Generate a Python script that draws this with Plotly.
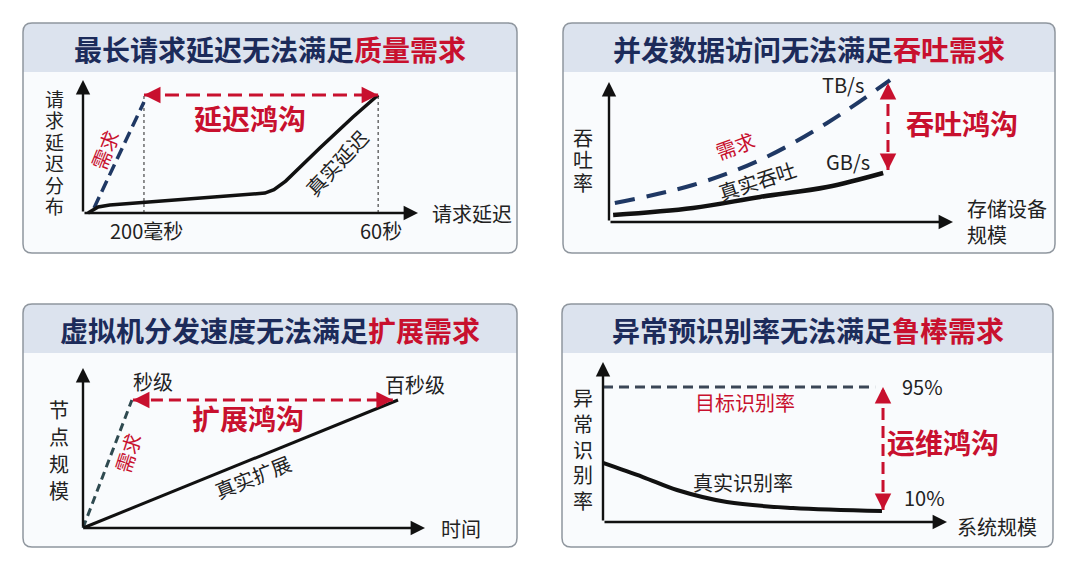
import plotly.graph_objects as go

# page body has an 8px margin, so the figure is drawn shifted by OFF
OFF = 8
W, H = 1064, 554
RED = "#c8102e"
NAVY = "#1c2b5a"
FONT = "Noto Sans CJK SC"

# ---- panel 1: 请求延迟 ----
p1_title = ("最长请求延迟无法满足", "质量需求")
p1_real_x = [1.5, 4.5, 8.0, 54.3, 57.0, 60.5, 70.7, 80.6, 88.1]
p1_real_y = [0.0, 4.5, 6.0, 15.0, 17.5, 24.0, 48.9, 72.2, 88.7]
p1_demand_x = [3.3, 18.2]
p1_demand_y = [3.8, 83.5]
p1_ticks = [18.2, 88.1]
p1_ticktext = ["200毫秒", "60秒"]
p1_gap_y = 88.7

# ---- panel 2: 吞吐 ----
p2_title = ("并发数据访问无法满足", "吞吐需求")
p2_demand_x = [1.7, 24.4, 43.9, 63.4, 81.7]
p2_demand_y = [13.6, 26.4, 44.3, 70.7, 101.4]
p2_real_x = [1.2, 24.4, 43.9, 63.4, 79.7]
p2_real_y = [5.0, 10.0, 17.9, 25.0, 35.0]
p2_gap_x = 81.1
p2_gap_y = [37.1, 99.3]

# ---- panel 3: 扩展 ----
p3_title = ("虚拟机分发速度无法满足", "扩展需求")
p3_demand_x = [0.0, 14.3]
p3_demand_y = [0.0, 80.0]
p3_real_x = [0.0, 92.1]
p3_real_y = [0.0, 80.0]
p3_gap_x = [14.6, 90.6]
p3_gap_y = 80.0

# ---- panel 4: 识别率 ----
p4_title = ("异常预识别率无法满足", "鲁棒需求")
p4_target_x = [0.0, 79.1]
p4_target_y = [84.4, 84.4]
p4_real_x = [0.0, 11.6, 21.5, 36.0, 55.2, 81.1]
p4_real_y = [36.9, 28.1, 20.0, 12.5, 8.75, 6.9]
p4_gap_x = 81.4
p4_gap_y = [7.5, 84.4]

# panel boxes (window px): left, top, right, bottom, header bottom
panels = [
    (23, 23, 517, 253, 72),
    (563, 23, 1055, 253, 72),
    (23, 304, 517, 547, 353),
    (562, 304, 1053, 547, 353),
]
# axis origin / arrow end (window px)
axes_px = [
    ((83, 213), (418, 80)),
    ((609, 222), (953, 82)),
    ((83, 528), (425, 368)),
    ((603, 522), (947, 362)),
]

fig = go.Figure()
layout = dict(width=W, height=H, margin=dict(l=0, r=0, t=0, b=0),
              paper_bgcolor="white", plot_bgcolor="rgba(0,0,0,0)",
              showlegend=False, font=dict(family=FONT, color="#222"))
shapes, annos = [], []


def px(x, y):
    return (x - OFF) / W, 1 - (y - OFF) / H


def rounded(x0, y0, x1, y1, r, top_only=False):
    ax0, ay0 = px(x0, y0)
    ax1, ay1 = px(x1, y1)
    rx, ry = r / W, r / H
    p = f"M{ax0 + rx},{ay0} L{ax1 - rx},{ay0} Q{ax1},{ay0} {ax1},{ay0 - ry} "
    if top_only:
        p += f"L{ax1},{ay1} L{ax0},{ay1} "
    else:
        p += (f"L{ax1},{ay1 + ry} Q{ax1},{ay1} {ax1 - rx},{ay1} "
              f"L{ax0 + rx},{ay1} Q{ax0},{ay1} {ax0},{ay1 + ry} ")
    p += f"L{ax0},{ay0 - ry} Q{ax0},{ay0} {ax0 + rx},{ay0} Z"
    return p


titles = [p1_title, p2_title, p3_title, p4_title]
for i, ((l, t, r, b, hb), ((ox, oy), (ex, ey))) in enumerate(zip(panels, axes_px)):
    n = "" if i == 0 else str(i + 1)
    shapes.append(dict(type="path", xref="paper", yref="paper", layer="below",
                       path=rounded(l, t, r, b, 9), fillcolor="#f9fbfd", line=dict(width=0)))
    shapes.append(dict(type="path", xref="paper", yref="paper", layer="below",
                       path=rounded(l, t, r, hb, 9, top_only=True), fillcolor="#dce3ee", line=dict(width=0)))
    shapes.append(dict(type="path", xref="paper", yref="paper", layer="below",
                       path=rounded(l, t, r, b, 9), fillcolor="rgba(0,0,0,0)",
                       line=dict(color="#8f969e", width=1.5)))
    tx, ty = px((l + r) / 2, (t + hb) / 2 + 1)
    annos.append(dict(xref="paper", yref="paper", x=tx, y=ty, xanchor="center", yanchor="middle",
                      showarrow=False,
                      text=f"<b>{titles[i][0]}<span style='color:{RED}'>{titles[i][1]}</span></b>",
                      font=dict(size=28, color=NAVY)))
    # axes in 0..100 units, domain covers the panel body
    sx = 100 / (ex - ox)
    sy = 100 / (oy - ey)
    x0, y0 = l + 2, hb + 1
    x1, y1 = r - 2, b - 2
    dx0, dy1 = px(x0, y1)
    dx1, dy0 = px(x1, y0)
    layout["xaxis" + n] = dict(domain=[dx0, dx1], range=[(x0 - ox) * sx, (x1 - ox) * sx],
                               visible=False, anchor="y" + n, fixedrange=True)
    layout["yaxis" + n] = dict(domain=[dy1, dy0], range=[(oy - y1) * sy, (oy - y0) * sy],
                               visible=False, anchor="x" + n, fixedrange=True)
    xr, yr = "x" + n, "y" + n
    for (ax_, ay_) in [(100, 0), (0, 100)]:
        annos.append(dict(xref=xr, yref=yr, axref=xr, ayref=yr, x=ax_, y=ay_, ax=0, ay=0,
                          text="", showarrow=True, arrowhead=2, arrowsize=1.2, arrowwidth=2.4,
                          arrowcolor="#111", standoff=0, startstandoff=0))


def line(xs, ys, n, color, width, dash=None, shape="linear"):
    fig.add_trace(go.Scatter(x=xs, y=ys, mode="lines", xaxis="x" + n, yaxis="y" + n,
                             line=dict(color=color, width=width, dash=dash, shape=shape),
                             hoverinfo="skip"))


def head(x, y, n, dx, dy):
    annos.append(dict(xref="x" + n, yref="y" + n, x=x, y=y, ax=dx, ay=dy, text="",
                      showarrow=True, arrowhead=2, arrowsize=1.1, arrowwidth=3,
                      arrowcolor=RED, standoff=0))


def text(x, y, n, s, size=20, color="#222", angle=0, bold=False, **kw):
    annos.append(dict(xref="x" + n, yref="y" + n, x=x, y=y, showarrow=False,
                      text=f"<b>{s}</b>" if bold else s, textangle=angle,
                      font=dict(size=size, color=color), **kw))


def vtext(x, yc, n, s, pitch, size=20):
    # upright characters stacked top to bottom, pitch in y units
    top = yc + pitch * (len(s) - 1) / 2
    for k, ch in enumerate(s):
        text(x, top - k * pitch, n, ch, size=size)


# panel 1
n = ""
for tx_ in p1_ticks:
    line([tx_, tx_], [0, p1_gap_y], n, "#222", 1, dash="3px,3px")
line(p1_demand_x, p1_demand_y, n, "#1f3864", 3.5, dash="12px,6px")
line(p1_real_x, p1_real_y, n, "#111", 3.5)
line(p1_ticks, [p1_gap_y, p1_gap_y], n, RED, 3, dash="14px,7px")
head(p1_ticks[0], p1_gap_y, n, 14, 0)
head(p1_ticks[1], p1_gap_y, n, -14, 0)
for tx_, tt in zip(p1_ticks, p1_ticktext):
    text(tx_ + 0.8, -12.8, n, tt)
text(49.9, 71.4, n, "延迟鸿沟", size=28, color=RED, bold=True)
text(6.6, 47.4, n, "需求", color=RED, angle=-68)
text(75.8, 37.6, n, "真实延迟", angle=-47)
vtext(-8.4, 45.9, n, "请求延迟分布", 16.1, size=19)
text(103.5, 0, n, "请求延迟", xanchor="left")

# panel 2
n = "2"
line(p2_demand_x, p2_demand_y, n, "#1f3864", 4, dash="20px,12px", shape="spline")
line(p2_real_x, p2_real_y, n, "#111", 4.5, shape="spline")
line([p2_gap_x, p2_gap_x], p2_gap_y, n, RED, 3, dash="12px,6px")
head(p2_gap_x, p2_gap_y[0], n, 0, -14)
head(p2_gap_x, p2_gap_y[1], n, 0, 14)
text(68.0, 97.9, n, "TB/s")
text(69.5, 42.9, n, "GB/s")
text(102.6, 70.7, n, "吞吐鸿沟", size=28, color=RED, bold=True)
text(36.6, 55.0, n, "需求", color=RED, angle=-20)
text(43.0, 30.0, n, "真实吞吐", angle=-18)
vtext(-7.6, 44.3, n, "吞吐率", 16.4)
text(103.5, 0.4, n, "存储设备<br>规模", xanchor="left", align="left")

# panel 3
n = "3"
line(p3_demand_x, p3_demand_y, n, "#2f4a50", 3, dash="8px,5px")
line(p3_real_x, p3_real_y, n, "#111", 3)
line(p3_gap_x, [p3_gap_y, p3_gap_y], n, RED, 3, dash="12px,6px")
head(p3_gap_x[0], p3_gap_y, n, 14, 0)
head(p3_gap_x[1], p3_gap_y, n, -14, 0)
text(20.5, 91.3, n, "秒级")
text(97.1, 89.4, n, "百秒级")
text(48.2, 68.8, n, "扩展鸿沟", size=28, color=RED, bold=True)
text(13.2, 46.9, n, "需求", color=RED, angle=-72)
text(49.7, 31.9, n, "真实扩展", angle=-22)
vtext(-7.0, 48.8, n, "节点规模", 17.0)
text(104.0, 0, n, "时间", xanchor="left")

# panel 4
n = "4"
line(p4_target_x, p4_target_y, n, "#3b4656", 3, dash="10px,6px")
line(p4_real_x, p4_real_y, n, "#111", 4, shape="spline")
line([p4_gap_x, p4_gap_x], p4_gap_y, n, RED, 3, dash="12px,6px")
head(p4_gap_x, p4_gap_y[0], n, 0, -14)
head(p4_gap_x, p4_gap_y[1], n, 0, 14)
text(93.0, 84.4, n, "95%")
text(93.6, 15.6, n, "10%")
text(41.3, 75.0, n, "目标识别率", color=RED)
text(40.7, 25.0, n, "真实识别率")
text(98.8, 50.0, n, "运维鸿沟", size=28, color=RED, bold=True)
vtext(-5.8, 45.6, n, "异常识别率", 16.0)
text(114.5, -3.1, n, "系统规模")

layout["shapes"] = shapes
layout["annotations"] = annos
fig.update_layout(**layout)
fig.write_html("out.html")
